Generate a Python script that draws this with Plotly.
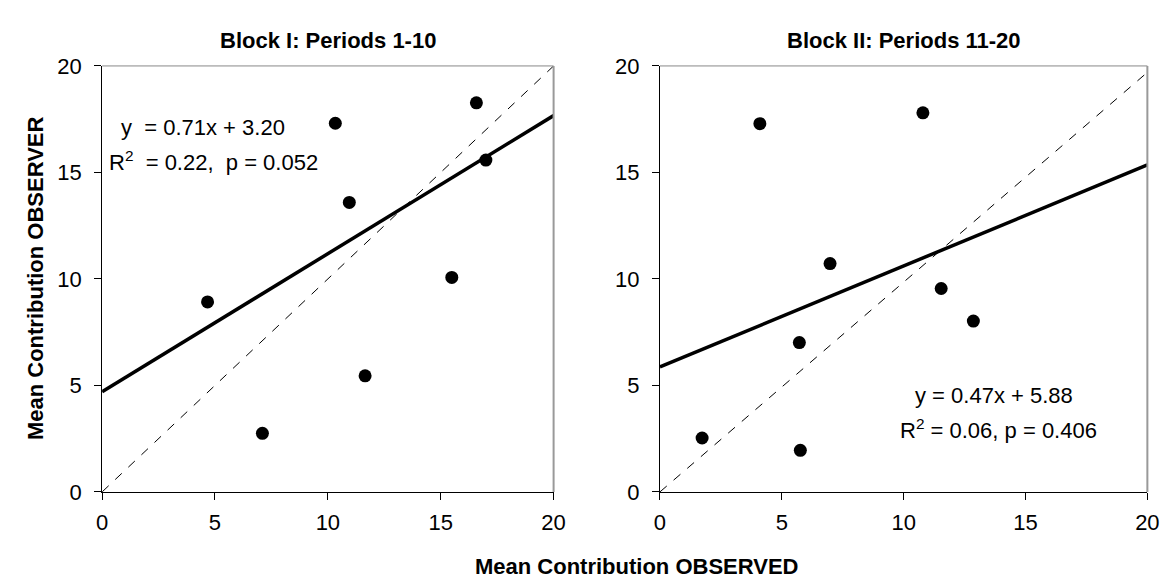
import plotly.graph_objects as go

# Block I data
obs1 = [10.33, 16.58, 17.0, 10.95, 15.49, 4.67, 11.65, 7.10]
obsr1 = [17.31, 18.27, 15.58, 13.59, 10.07, 8.92, 5.45, 2.75]
# Block II data
obs2 = [4.10, 10.79, 6.98, 11.54, 12.86, 5.72, 1.73, 5.76]
obsr2 = [17.29, 17.80, 10.72, 9.55, 8.02, 7.01, 2.53, 1.95]

# fitted lines (as drawn) and reference diagonals
fit_x = [0, 20]
fit1_y = [4.70, 17.67]
fit2_y = [5.87, 15.35]
diag1_y = [0, 20]
diag2_y = [0, 19.7]

titles = ["Block I: Periods 1-10", "Block II: Periods 11-20"]
eq1 = ["y  = 0.71x + 3.20", "R<sup>2</sup>  = 0.22,  p = 0.052"]
eq2 = ["y = 0.47x + 5.88", "R<sup>2</sup> = 0.06, p = 0.406"]
ticks = [0, 5, 10, 15, 20]

FONT = "Liberation Sans, Arial, sans-serif"
W, H = 1175, 584

fig = go.Figure()

def add_panel(xs, ys, fy, dy, xa, ya):
    fig.add_trace(go.Scatter(x=fit_x, y=dy, mode="lines", xaxis=xa, yaxis=ya,
                             line=dict(color="black", width=1, dash="dash"), showlegend=False))
    fig.add_trace(go.Scatter(x=fit_x, y=fy, mode="lines", xaxis=xa, yaxis=ya,
                             line=dict(color="black", width=3.5), showlegend=False))
    fig.add_trace(go.Scatter(x=xs, y=ys, mode="markers", xaxis=xa, yaxis=ya,
                             marker=dict(color="black", size=13), showlegend=False))

add_panel(obs1, obsr1, fit1_y, diag1_y, "x", "y")
add_panel(obs2, obsr2, fit2_y, diag2_y, "x2", "y2")

ydom = [1 - 493 / H, 1 - 48 / H]
axis_common = dict(range=[0, 20], tickvals=ticks, showgrid=False, zeroline=False,
                   showline=True, linecolor="black", linewidth=1,
                   ticks="outside", ticklen=7, tickcolor="black",
                   tickfont=dict(family=FONT, size=22, color="black"))

fig.update_layout(
    width=W, height=H,
    margin=dict(l=0, r=0, t=0, b=0),
    paper_bgcolor="white", plot_bgcolor="white",
    font=dict(family=FONT, color="black"),
    xaxis=dict(domain=[89.5 / W, 548 / W], anchor="y", ticklabelstandoff=4, **axis_common),
    yaxis=dict(domain=ydom, anchor="x", ticklabelstandoff=8, **axis_common),
    xaxis2=dict(domain=[656 / W, 1151 / W], anchor="y2", ticklabelstandoff=4, **axis_common),
    yaxis2=dict(domain=ydom, anchor="x2", ticklabelstandoff=8, **axis_common),
)

# gray top/right frame
for xr, yr in [("x domain", "y domain"), ("x2 domain", "y2 domain")]:
    fig.add_shape(type="line", xref=xr, yref=yr, x0=0, x1=1, y0=1, y1=1,
                  line=dict(color="#888888", width=1))
    fig.add_shape(type="line", xref=xr, yref=yr, x0=1, x1=1, y0=0, y1=1,
                  line=dict(color="#999999", width=2))

# panel titles
for xr, t in [("x domain", titles[0]), ("x2 domain", titles[1])]:
    fig.add_annotation(xref=xr, yref="paper", x=0.5, y=1 - 21 / H, text="<b>%s</b>" % t,
                       showarrow=False, font=dict(size=22, family=FONT),
                       xanchor="center", yanchor="middle")

# equations
eq_pos1 = [(4.49, 17.1), (4.95, 15.54)]
eq_pos2 = [(13.72, 4.53), (13.9, 2.96)]
for txt, (px, py) in zip(eq1, eq_pos1):
    fig.add_annotation(xref="x", yref="y", x=px, y=py, text=txt, showarrow=False,
                       xanchor="center", yanchor="middle", font=dict(size=22, family=FONT))
for txt, (px, py) in zip(eq2, eq_pos2):
    fig.add_annotation(xref="x2", yref="y2", x=px, y=py, text=txt, showarrow=False,
                       xanchor="center", yanchor="middle", font=dict(size=22, family=FONT))

fig.add_annotation(xref="paper", yref="paper", x=22 / W, y=1 - 270 / H,
                   text="<b>Mean Contribution OBSERVER</b>", textangle=-90, showarrow=False,
                   xanchor="center", yanchor="middle", font=dict(size=22, family=FONT))
fig.add_annotation(xref="paper", yref="paper", x=633 / W, y=1 - 571 / H,
                   text="<b>Mean Contribution OBSERVED</b>", showarrow=False,
                   xanchor="center", yanchor="middle", font=dict(size=22, family=FONT))

fig.write_html("out.html")
